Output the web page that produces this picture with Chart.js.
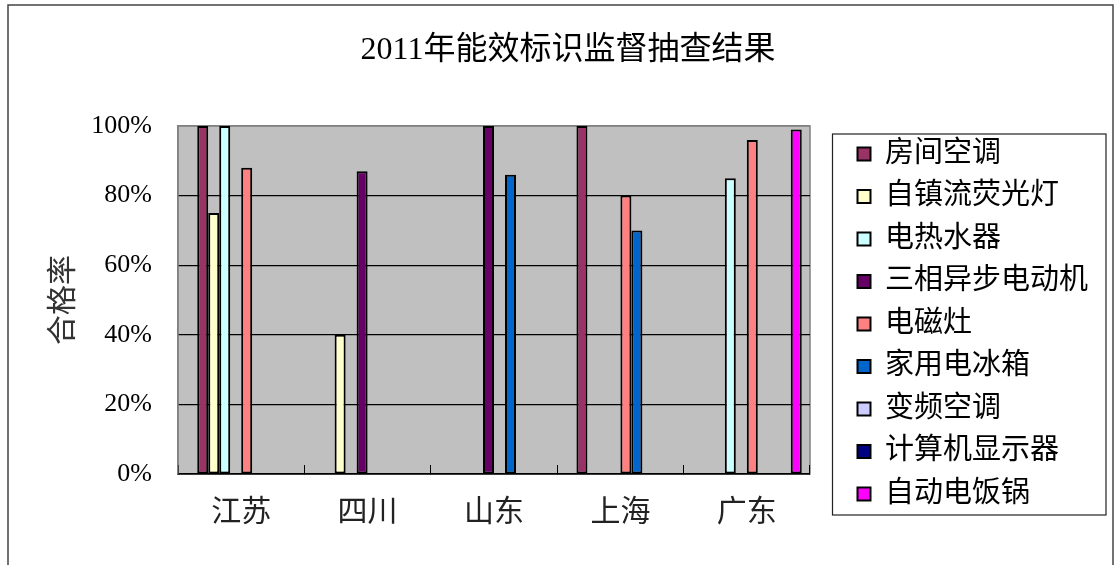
<!DOCTYPE html>
<html>
<head>
<meta charset="utf-8">
<script src="https://cdn.jsdelivr.net/npm/chart.js@4/dist/chart.umd.min.js"></script>
<style>
  body { margin: 0; background: #fff; overflow: hidden; }
  #wrap { position: relative; width: 1118px; height: 565px; }
</style>
</head>
<body>
<div id="wrap"><canvas id="myChart-bar"></canvas></div>
<script>
const ctx = document.getElementById('myChart-bar');

const REGIONS = ['江苏', '四川', '山东', '上海', '广东'];
const NAMES = ['', '房间空调', '自镇流荧光灯', '电热水器', '三相异步电动机', '电磁灶', '家用电冰箱', '变频空调', '计算机显示器', '自动电饭锅'];
const COLORS = ['#9999FF', '#993366', '#FFFFCC', '#CCFFFF', '#660066', '#FF8080', '#0066CC', '#CCCCFF', '#000080', '#FF00FF'];
const Y_TICKS = [0, 20, 40, 60, 80, 100];

// first slot is an empty series in the original sheet (keeps the gap left of each group)
const blank       = [null, null, null, null, null];
const roomAC      = [100, null, null, 100, null];
const cfl         = [75, 40, null, null, null];
const waterHeater = [100, null, null, null, 85];
const motor       = [null, 87, 100, null, null];
const inductionCk = [88, null, null, 80, 96];
const fridge      = [null, null, 86, 70, null];
const inverterAC  = [null, null, null, null, null];
const monitor     = [null, null, null, null, null];
const riceCooker  = [null, null, null, null, 99];

const SERIES = [blank, roomAC, cfl, waterHeater, motor, inductionCk, fridge, inverterAC, monitor, riceCooker];

Chart.defaults.font.family = "'Liberation Serif', 'Noto Sans CJK SC', serif";
Chart.defaults.color = '#000';

const plotBg = {
    id: 'plotBg',
    beforeDraw(chart) {
        const c = chart.ctx;
        const a = chart.chartArea;
        c.save();
        c.strokeStyle = '#444';
        c.lineWidth = 1.5;
        c.strokeRect(8, 5, 1105, 700);
        c.fillStyle = '#C0C0C0';
        c.fillRect(a.left, a.top, a.right - a.left, a.bottom - a.top);
        c.strokeStyle = '#808080';
        c.lineWidth = 1.5;
        c.strokeRect(a.left, a.top, a.right - a.left, a.bottom - a.top);
        c.restore();
    }
};

const legendBox = {
    id: 'legendBox',
    afterDraw(chart) {
        const lg = chart.legend;
        const hb = lg.legendHitBoxes;
        if (!hb || !hb.length) return;
        const first = hb[0], last = hb[hb.length - 1];
        const c = chart.ctx;
        c.save();
        c.strokeStyle = '#222';
        c.lineWidth = 1.2;
        const x1 = first.left - 25, x2 = lg.right + 8;
        const y1 = first.top + first.height / 2 - 20, y2 = last.top + last.height / 2 + 21;
        c.strokeRect(x1, y1, x2 - x1, y2 - y1);
        c.restore();
    }
};

const data = {
    labels: REGIONS,
    datasets: SERIES.map((vals, i) => ({
        label: NAMES[i],
        data: vals,
        backgroundColor: COLORS[i],
        borderColor: '#000',
        borderWidth: 2,
        borderSkipped: false,
        categoryPercentage: 10 / 11.5,
        barPercentage: 1
    }))
};

const config = {
    type: 'bar',
    data: data,
    options: {
        responsive: true,
        maintainAspectRatio: false,
        animation: false,
        layout: { padding: { left: 38, right: 20, top: 0, bottom: 34 } },
        scales: {
            x: {
                grid: { display: true, offset: true, drawOnChartArea: false, drawTicks: true, tickLength: -9, color: '#000' },
                border: { display: true, color: '#000', width: 1.5 },
                ticks: { font: { size: 30 }, padding: 30, color: '#222' },
                afterFit: (s) => { s.height = 57; }
            },
            y: {
                min: 0,
                max: 100,
                afterBuildTicks: (s) => { s.ticks = Y_TICKS.map(v => ({ value: v })); },
                ticks: { callback: (v) => v + '%', padding: 26, font: { size: 26 } },
                grid: {
                    drawTicks: false,
                    lineWidth: 1.2,
                    color: (c) => (c.tick && c.tick.value === 100) ? '#808080' : '#000'
                },
                border: { display: true, color: '#808080', width: 1.5 },
                title: { display: true, text: '合格率', font: { size: 30 }, padding: { top: 8, bottom: 0 }, color: '#333' },
                afterFit: (s) => { s.width = 140; }
            },
            gap: {
                type: 'linear',
                position: 'right',
                display: true,
                grid: { display: false },
                ticks: { display: false },
                border: { display: false },
                afterFit: (s) => { s.width = 34; }
            }
        },
        plugins: {
            title: {
                display: true,
                text: '2011年能效标识监督抽查结果',
                font: { size: 32, weight: 'normal' },
                padding: { top: 31.5, bottom: 56.1 },
                color: '#000'
            },
            legend: {
                position: 'right',
                align: 'start',
                maxWidth: 300,
                title: { display: true, text: '', font: { size: 10, lineHeight: 1.2 }, padding: { top: 114, bottom: 0 } },
                labels: {
                    font: { size: 29 },
                    boxWidth: 13,
                    boxHeight: 13,
                    padding: 13.5,
                    color: '#000',
                    filter: (item) => item.datasetIndex > 0
                }
            },
            tooltip: { enabled: false }
        }
    },
    plugins: [plotBg, legendBox]
};

const myChart = new Chart(ctx, config);
</script>
</body>
</html>
